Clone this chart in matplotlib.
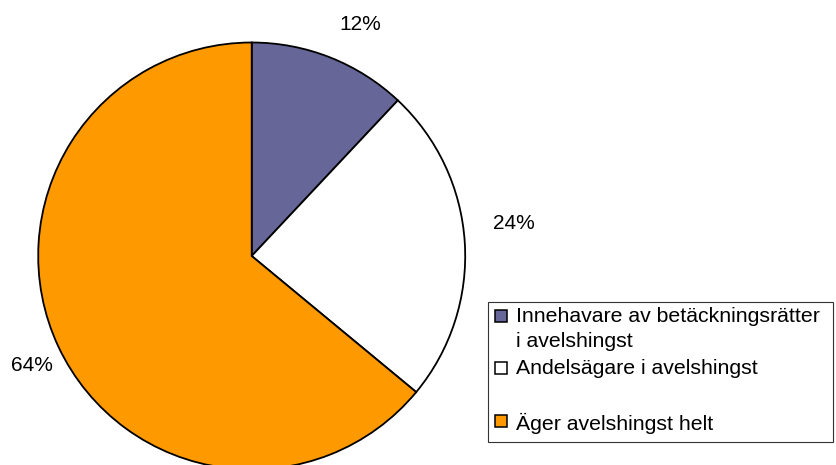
import matplotlib
matplotlib.use('Agg')
import matplotlib.pyplot as plt
from matplotlib.patches import Rectangle

plt.rcParams['font.family'] = ['Liberation Sans', 'DejaVu Sans']

# data
categories = ['Innehavare av betäckningsrätter\ni avelshingst',
              'Andelsägare i avelshingst',
              'Äger avelshingst helt']
shares = [12, 24, 64]
colors = ['#666699', '#FFFFFF', '#FF9900']

# label placement (data units, pie radius = 1)
LABEL_POS = [(0.507, 1.085), (1.228, 0.150), (-1.030, -0.515)]

W, H = 836, 465
CX, CY, R = 251.7, 256.0, 213.5

fig = plt.figure(figsize=(W / 100, H / 100), dpi=100)
ax = fig.add_axes([(CX - R) / W, (H - CY - R) / H, 2 * R / W, 2 * R / H])

wedges, _ = ax.pie(shares, colors=colors, startangle=90, counterclock=False,
                   radius=1.0, wedgeprops={'edgecolor': 'black', 'linewidth': 1.3})
for w in wedges:
    w.set_clip_on(False)
for (lx, ly), v in zip(LABEL_POS, shares):
    ax.text(lx, ly, f'{v}%', ha='center', va='center', fontsize=15, color='black')
ax.set_xlim(-1, 1)
ax.set_ylim(-1, 1)
ax.set_aspect('equal')
ax.axis('off')


def fx(px):
    return px / W


def fy(py):
    return 1 - py / H


# legend drawn by hand to get the Excel-style spacing
fig.patches.append(Rectangle((fx(488), fy(442)), fx(833) - fx(488), fy(302) - fy(442),
                             transform=fig.transFigure, facecolor='white',
                             edgecolor='#333333', linewidth=0.8))
entry_y = [316, 368, 421]
for w, lab, y in zip(wedges, categories, entry_y):
    fig.patches.append(Rectangle((fx(494.5), fy(y + 6)), 12 / W, 12 / H,
                                 transform=fig.transFigure,
                                 facecolor=w.get_facecolor(), edgecolor='black',
                                 linewidth=1.1))
    fig.text(fx(516), fy(y - 8.5), lab, ha='left', va='top', fontsize=15.3,
             linespacing=1.38, color='black')

fig.savefig('out.png', dpi=100)
